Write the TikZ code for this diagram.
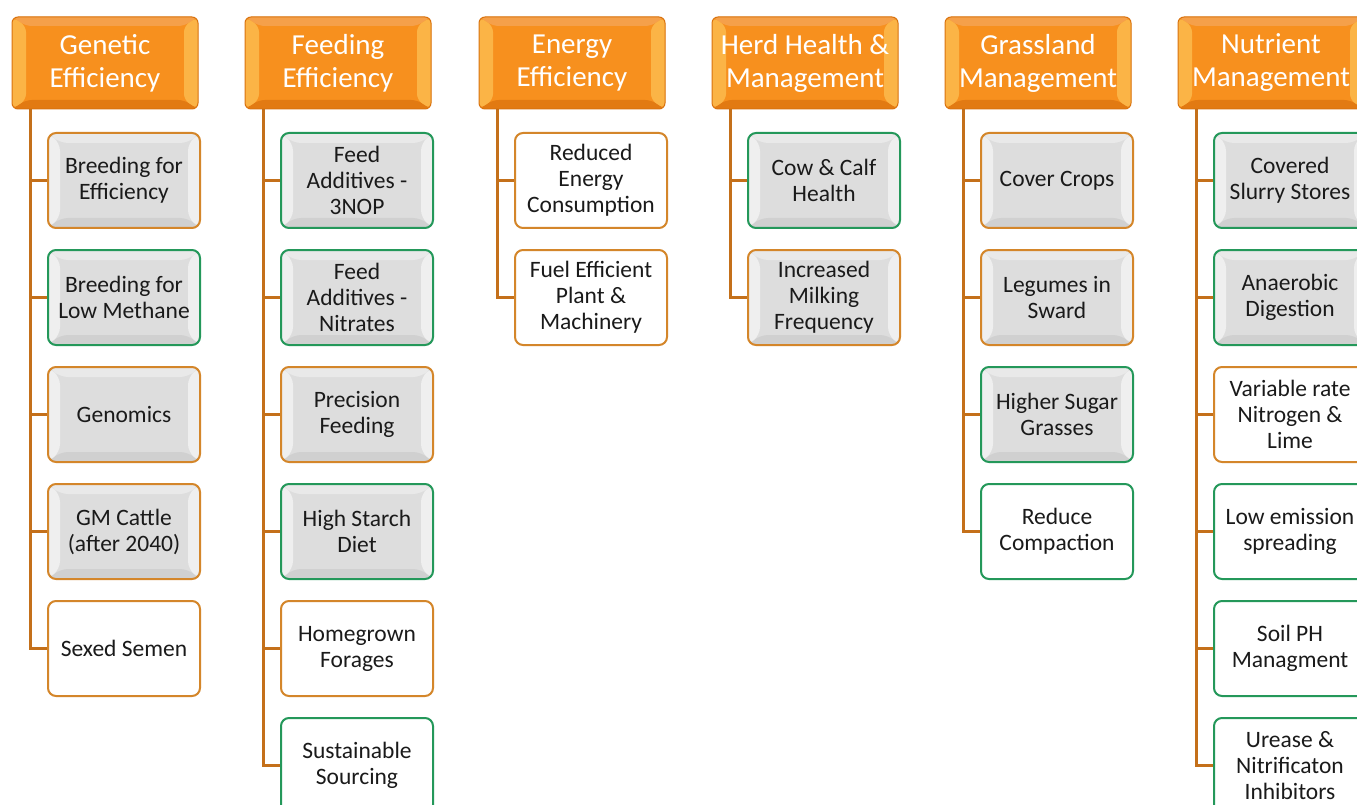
\documentclass[tikz,border=0pt]{standalone}
\usepackage{fontspec}
\setmainfont{Carlito}
\definecolor{hdrEdge}{HTML}{D9730F}
\definecolor{hdrFace}{HTML}{F7901E}
\definecolor{hdrTopC}{HTML}{F5A04A}
\definecolor{hdrBotC}{HTML}{E27A12}
\definecolor{hdrSide}{HTML}{FBB446}
\definecolor{obord}{HTML}{D4862A}
\definecolor{gbord}{HTML}{24985A}
\definecolor{trunkC}{HTML}{C4701A}
\definecolor{gFace}{HTML}{DDDDDD}
\definecolor{gTop}{HTML}{E9E9E9}
\definecolor{gSide}{HTML}{EFEFEF}
\definecolor{gBot}{HTML}{D0D0D0}
\definecolor{txt}{HTML}{1A1A1A}
\tikzset{
  hdr/.style={rounded corners=6pt, draw=hdrEdge, line width=1pt, fill=hdrFace,
    minimum width=186pt, minimum height=92pt, inner sep=0pt, text=white, align=center,
    font=\fontsize{29}{33}\selectfont,
    path picture={
      \fill[hdrTopC] (path picture bounding box.north west) -- ([shift={(14pt,-9pt)}]path picture bounding box.north west) -- ([shift={(-14pt,-9pt)}]path picture bounding box.north east) -- (path picture bounding box.north east) -- cycle;
      \fill[hdrBotC] (path picture bounding box.south west) -- ([shift={(14pt,9pt)}]path picture bounding box.south west) -- ([shift={(-14pt,9pt)}]path picture bounding box.south east) -- (path picture bounding box.south east) -- cycle;
      \fill[hdrSide] (path picture bounding box.north west) -- ([shift={(14pt,-9pt)}]path picture bounding box.north west) -- ([shift={(14pt,9pt)}]path picture bounding box.south west) -- (path picture bounding box.south west) -- cycle;
      \fill[hdrSide] (path picture bounding box.north east) -- ([shift={(-14pt,-9pt)}]path picture bounding box.north east) -- ([shift={(-14pt,9pt)}]path picture bounding box.south east) -- (path picture bounding box.south east) -- cycle;
    }},
  cell/.style={rounded corners=8pt, line width=2pt, minimum width=152pt, minimum height=95pt,
    inner sep=0pt, align=center, text=txt, font=\fontsize{23.5}{26}\selectfont},
  grey/.style={fill=gFace,
    path picture={
      \fill[gTop] (path picture bounding box.north west) -- ([shift={(12pt,-10pt)}]path picture bounding box.north west) -- ([shift={(-12pt,-10pt)}]path picture bounding box.north east) -- (path picture bounding box.north east) -- cycle;
      \fill[gBot] (path picture bounding box.south west) -- ([shift={(12pt,10pt)}]path picture bounding box.south west) -- ([shift={(-12pt,10pt)}]path picture bounding box.south east) -- (path picture bounding box.south east) -- cycle;
      \fill[gSide] (path picture bounding box.north west) -- ([shift={(12pt,-10pt)}]path picture bounding box.north west) -- ([shift={(12pt,10pt)}]path picture bounding box.south west) -- (path picture bounding box.south west) -- cycle;
      \fill[gSide] (path picture bounding box.north east) -- ([shift={(-12pt,-10pt)}]path picture bounding box.north east) -- ([shift={(-12pt,10pt)}]path picture bounding box.south east) -- (path picture bounding box.south east) -- cycle;
    }},
  plain/.style={fill=white},
  ob/.style={draw=obord},
  gb/.style={draw=gbord},
  trunk/.style={draw=trunkC, line width=2.5pt},
}
\begin{document}
\begin{tikzpicture}[x=1pt,y=-1pt]
\path[use as bounding box, clip] (0,0) rectangle (1357,805);
\fill[white] (0,0) rectangle (1357,805);

% headers
\node[hdr] (hG) at (105,63) {Genetic\\Efficiency};
\node[hdr] (hF) at (338,63) {Feeding\\Efficiency};
\node[hdr] (hE) at (572,63) {Energy\\Efficiency};
\node[hdr] (hH) at (805,63) {Herd Health \&\\Management};
\node[hdr] (hS) at (1038,63) {Grassland\\Management};
\node[hdr] (hN) at (1271,63) {Nutrient\\Management};

% Genetic
\node[cell,grey,ob] (g1) at (124,180.5) {Breeding for\\Efficiency};
\node[cell,grey,gb] (g2) at (124,297.5) {Breeding for\\Low Methane};
\node[cell,grey,ob] (g3) at (124,414.5) {Genomics};
\node[cell,grey,ob] (g4) at (124,531.5) {GM Cattle\\(after 2040)};
\node[cell,plain,ob] (g5) at (124,648.5) {Sexed Semen};

% Feeding
\node[cell,grey,gb] (f1) at (357,180.5) {Feed\\Additives -\\3NOP};
\node[cell,grey,gb] (f2) at (357,297.5) {Feed\\Additives -\\Nitrates};
\node[cell,grey,ob] (f3) at (357,414.5) {Precision\\Feeding};
\node[cell,grey,gb] (f4) at (357,531.5) {High Starch\\Diet};
\node[cell,plain,ob] (f5) at (357,648.5) {Homegrown\\Forages};
\node[cell,plain,gb] (f6) at (357,765.5) {Sustainable\\Sourcing};

% Energy
\node[cell,plain,ob] (e1) at (591,180.5) {Reduced\\Energy\\Consumption};
\node[cell,plain,ob] (e2) at (591,297.5) {Fuel Efficient\\Plant \&\\Machinery};

% Herd
\node[cell,grey,gb] (r1) at (824,180.5) {Cow \& Calf\\Health};
\node[cell,grey,ob] (r2) at (824,297.5) {Increased\\Milking\\Frequency};

% Grassland
\node[cell,grey,ob] (s1) at (1057,180.5) {Cover Crops};
\node[cell,grey,ob] (s2) at (1057,297.5) {Legumes in\\Sward};
\node[cell,grey,gb] (s3) at (1057,414.5) {Higher Sugar\\Grasses};
\node[cell,plain,gb] (s4) at (1057,531.5) {Reduce\\Compaction};

% Nutrient
\node[cell,grey,gb] (n1) at (1290,180.5) {Covered\\Slurry Stores};
\node[cell,grey,gb] (n2) at (1290,297.5) {Anaerobic\\Digestion};
\node[cell,plain,ob] (n3) at (1290,414.5) {Variable rate\\Nitrogen \&\\Lime};
\node[cell,plain,gb] (n4) at (1290,531.5) {Low emission\\spreading};
\node[cell,plain,gb] (n5) at (1290,648.5) {Soil PH\\Managment};
\node[cell,plain,gb] (n6) at (1290,765.5) {Urease \&\\Nitrificaton\\Inhibitors};

% trunks
\coordinate (tG) at ([xshift=19pt]hG.south west);
\coordinate (tF) at ([xshift=19pt]hF.south west);
\coordinate (tE) at ([xshift=19pt]hE.south west);
\coordinate (tH) at ([xshift=19pt]hH.south west);
\coordinate (tS) at ([xshift=19pt]hS.south west);
\coordinate (tN) at ([xshift=19pt]hN.south west);

\draw[trunk] (tG) |- (g5.west);
\foreach \n in {g1,g2,g3,g4} \draw[trunk] (\n.west) -- (\n.west -| tG);
\draw[trunk] (tF) |- (f6.west);
\foreach \n in {f1,f2,f3,f4,f5} \draw[trunk] (\n.west) -- (\n.west -| tF);
\draw[trunk] (tE) |- (e2.west);
\draw[trunk] (e1.west) -- (e1.west -| tE);
\draw[trunk] (tH) |- (r2.west);
\draw[trunk] (r1.west) -- (r1.west -| tH);
\draw[trunk] (tS) |- (s4.west);
\foreach \n in {s1,s2,s3} \draw[trunk] (\n.west) -- (\n.west -| tS);
\draw[trunk] (tN) |- (n6.west);
\foreach \n in {n1,n2,n3,n4,n5} \draw[trunk] (\n.west) -- (\n.west -| tN);
\end{tikzpicture}
\end{document}
